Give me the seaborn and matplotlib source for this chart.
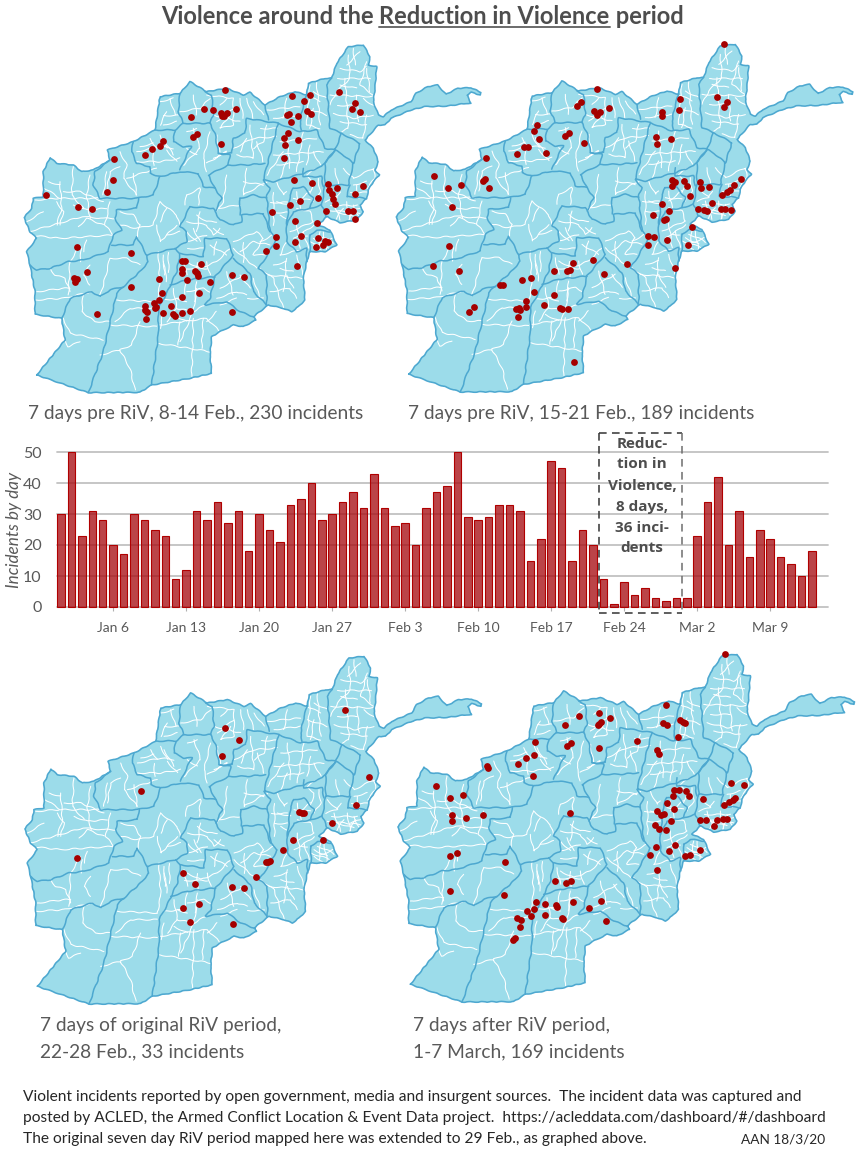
import matplotlib
matplotlib.use("Agg")
import matplotlib.pyplot as plt
from matplotlib.lines import Line2D
import pandas as pd
import seaborn as sns

W, H = 864, 1149
FONT = "Lato"
GREY = "#595959"

# ---------------- bar chart data ----------------
day_index = list(range(73))
incidents = [30, 50, 23, 31, 28, 20, 17, 30, 28, 25,
             23, 9, 12, 31, 28, 34, 27, 31, 18, 30,
             25, 21, 33, 35, 40, 28, 30, 34, 37, 32,
             43, 32, 26, 27, 20, 32, 37, 39, 50, 29,
             28, 29, 33, 33, 31, 15, 22, 47, 45, 15,
             25, 20, 9, 1, 8, 4, 6, 3, 2, 3,
             3, 23, 34, 42, 20, 31, 16, 25, 22, 16,
             14, 10, 18]
tick_days = [5, 12, 19, 26, 33, 40, 47, 54, 61, 68]
tick_labels = ["Jan 6", "Jan 13", "Jan 20", "Jan 27", "Feb 3",
               "Feb 10", "Feb 17", "Feb 24", "Mar 2", "Mar 9"]
riv_label = ["Reduc-", "tion in", "Violence,", "8 days,", "36 inci-", "dents"]

# ---------------- map geometry (map units) ----------------
country = [(50, 1020), (135, 915), (125, 850), (45, 838), (45, 770), (30, 690), (20, 650), (50, 610), (30, 590),
           (12, 548), (35, 520), (40, 490), (70, 485), (70, 410), (90, 368), (110, 385), (160, 390), (185, 410),
           (220, 405), (270, 375), (262, 345), (340, 320), (405, 285), (420, 185), (480, 175), (510, 140),
           (560, 170), (620, 160), (670, 180), (690, 172), (735, 210), (780, 185), (825, 170), (860, 180),
           (865, 145), (915, 130), (935, 130), (950, 85), (985, 35), (1030, 30), (1050, 65), (1045, 90),
           (1070, 95), (1065, 160), (1060, 200), (1075, 240), (1090, 245), (1113, 225), (1173, 200), (1188, 175),
           (1223, 155), (1253, 150), (1278, 178), (1313, 160), (1353, 158), (1383, 172), (1381, 180), (1353, 172),
           (1341, 180), (1353, 205), (1338, 205), (1283, 213), (1213, 215), (1173, 225), (1113, 250), (1095, 270),
           (1075, 270), (1035, 315), (1060, 340), (1075, 380), (1065, 405), (1078, 420), (1060, 440), (1045, 465),
           (1040, 490), (1020, 510), (1030, 530), (1010, 555), (960, 563), (920, 545), (895, 570), (930, 585),
           (950, 630), (915, 650), (870, 650), (860, 680), (850, 730), (855, 795), (835, 815), (815, 830),
           (790, 820), (745, 810), (700, 845), (708, 855), (670, 875), (640, 870), (600, 890), (575, 905),
           (570, 960), (575, 1015), (510, 1030), (395, 1050), (360, 1072), (205, 1073), (50, 1020)]

provinces = [
    [(30, 690), (50, 705), (90, 700), (145, 680), (190, 675), (265, 650), (270, 630), (280, 600), (305, 585), (285, 550), (290, 525), (350, 520), (355, 490)],
    [(270, 375), (225, 410), (220, 450), (240, 490), (350, 490), (400, 480), (420, 425), (480, 410), (535, 415), (550, 455), (585, 460), (605, 490), (585, 530), (600, 555), (640, 570), (665, 560), (665, 540), (730, 535), (750, 590)],
    [(340, 320), (335, 350), (350, 385), (390, 395), (390, 415), (420, 425)],
    [(405, 285), (465, 285)],
    [(480, 175), (475, 230), (490, 265), (465, 285), (460, 320), (490, 335), (515, 335), (500, 360), (480, 405)],
    [(490, 265), (570, 265), (585, 295), (595, 355), (630, 360), (625, 390), (565, 420), (585, 460)],
    [(555, 170), (575, 180), (580, 240), (570, 265)],
    [(595, 355), (635, 355), (640, 310), (675, 295), (680, 250), (775, 265), (760, 320), (730, 435), (760, 440), (850, 415), (905, 395), (945, 345)],
    [(735, 210), (745, 255)],
    [(775, 265), (840, 290), (890, 285), (915, 340), (945, 345), (965, 295), (930, 280), (920, 150), (935, 130)],
    [(860, 180), (850, 210), (840, 260), (845, 285)],
    [(965, 295), (1020, 325), (1000, 385), (970, 360), (945, 345), (915, 385), (915, 450), (985, 450), (1000, 385)],
    [(625, 390), (680, 390), (735, 385)],
    [(730, 435), (750, 460), (740, 480), (750, 590), (770, 610), (730, 680), (715, 700), (740, 720), (740, 810)],
    [(660, 490), (700, 480), (740, 490)],
    [(660, 490), (660, 540)],
    [(510, 515), (580, 520), (585, 530)],
    [(510, 515), (480, 575), (500, 590), (500, 620), (465, 640), (380, 660), (350, 605), (340, 630), (275, 630)],
    [(380, 660), (385, 680), (360, 710), (310, 755), (290, 775), (250, 950), (205, 1073)],
    [(125, 850), (150, 790), (215, 770), (240, 785), (270, 765), (310, 755)],
    [(465, 640), (480, 655), (470, 710), (440, 775), (415, 820), (415, 900), (395, 1050)],
    [(480, 655), (550, 665), (555, 610), (620, 610), (640, 660), (585, 725), (570, 790), (555, 810), (620, 800), (660, 830), (700, 845)],
    [(450, 750), (500, 735), (585, 725)],
    [(640, 670), (690, 715), (700, 770), (740, 810)],
    [(800, 570), (800, 620), (830, 650), (860, 640), (860, 680)],
    [(820, 460), (850, 455), (880, 490), (870, 520), (820, 530), (800, 570), (810, 480), (820, 460)],
    [(990, 450), (980, 485), (1040, 490)],
    [(915, 450), (905, 510), (920, 545)],
    [(850, 400), (850, 425), (905, 425), (910, 455)],
    [(870, 520), (905, 510)],
    [(870, 600), (890, 585), (930, 590)],
    [(870, 600), (870, 650)],
]

districts = [
    [(25, 590), (100, 570), (185, 545), (250, 550), (285, 550)], [(25, 600), (120, 610), (280, 600)],
    [(120, 440), (125, 520), (110, 570)], [(160, 395), (155, 480), (190, 520)], [(60, 450), (120, 490), (250, 490)],
    [(210, 420), (200, 480), (210, 550)], [(270, 500), (255, 570), (280, 600)],
    [(90, 700), (105, 720), (135, 730), (150, 770)], [(50, 770), (130, 760), (150, 760)],
    [(45, 795), (130, 790), (215, 770)], [(150, 680), (145, 780)], [(270, 670), (255, 730), (240, 785)],
    [(270, 670), (320, 670), (360, 690)], [(210, 690), (190, 720), (210, 750)], [(180, 630), (150, 680)],
    [(130, 850), (150, 895), (250, 915)], [(135, 915), (145, 935), (180, 920)], [(190, 780), (185, 830), (225, 860), (270, 860)],
    [(290, 795), (410, 800)], [(285, 860), (330, 820), (410, 820)], [(270, 870), (410, 875)],
    [(240, 960), (300, 945), (330, 1000), (345, 1065)], [(360, 860), (335, 930), (300, 945)], [(415, 650), (420, 750), (410, 800)],
    [(430, 680), (440, 740)], [(415, 925), (570, 950)], [(415, 870), (560, 850), (600, 890)], [(520, 830), (480, 920)],
    [(520, 850), (515, 1025)], [(550, 850), (545, 940)], [(460, 760), (470, 820), (520, 830), (555, 810)],
    [(500, 740), (490, 790), (430, 795)], [(530, 740), (525, 800)], [(590, 790), (650, 770), (680, 780)],
    [(620, 710), (640, 780)], [(600, 760), (670, 720)], [(500, 680), (540, 700), (590, 680), (630, 640)],
    [(720, 700), (760, 730), (780, 790), (790, 820)], [(745, 720), (850, 730)], [(750, 770), (810, 760), (830, 790)],
    [(800, 670), (790, 770)], [(640, 620), (710, 590), (730, 610), (700, 660), (735, 660)], [(660, 650), (700, 620), (750, 630)],
    [(420, 500), (400, 570), (350, 580), (300, 570)], [(410, 570), (420, 620), (470, 570)], [(420, 500), (470, 540), (480, 575)],
    [(360, 570), (350, 610)], [(500, 480), (540, 460), (535, 510)], [(500, 480), (495, 510)],
    [(500, 560), (560, 570), (580, 600), (600, 580)], [(520, 580), (540, 620)], [(500, 620), (560, 600)],
    [(620, 420), (610, 500), (590, 530)], [(590, 520), (660, 510)], [(680, 400), (670, 480), (740, 440)], [(670, 440), (730, 450)],
    [(350, 350), (420, 335), (460, 340)], [(400, 350), (400, 390)], [(350, 380), (420, 380), (480, 370)], [(390, 310), (410, 340)],
    [(300, 350), (320, 390), (310, 430), (350, 480)], [(260, 410), (250, 480)], [(320, 430), (410, 400)],
    [(430, 240), (475, 240)], [(450, 190), (465, 240)], [(420, 200), (460, 190)],
    [(520, 280), (540, 340), (490, 390)], [(570, 290), (550, 370), (560, 410)], [(600, 360), (590, 300)],
    [(480, 230), (540, 220), (570, 190)], [(520, 180), (530, 240)], [(560, 180), (640, 190)], [(640, 190), (640, 270), (600, 280), (630, 240)],
    [(580, 240), (660, 260)], [(660, 190), (670, 250)], [(640, 340), (700, 310), (770, 305)], [(690, 270), (700, 370), (650, 360)],
    [(720, 280), (770, 280)], [(740, 225), (840, 215)], [(800, 190), (790, 250)], [(760, 250), (840, 240)],
    [(780, 320), (890, 310)], [(800, 290), (810, 400)], [(850, 290), (830, 410)], [(760, 360), (910, 350)], [(790, 350), (740, 420)],
    [(870, 150), (860, 270), (900, 280)], [(890, 140), (900, 270)], [(860, 220), (920, 240)],
    [(985, 60), (990, 130), (950, 170), (930, 210)], [(1040, 80), (1020, 150), (1060, 180)], [(960, 100), (1020, 110), (1040, 95)],
    [(930, 180), (1060, 185)], [(940, 235), (1000, 250), (1060, 240)], [(975, 130), (985, 280), (965, 290)], [(1010, 180), (1015, 260)],
    [(945, 400), (955, 450)], [(970, 400), (1000, 430)], [(1000, 430), (1060, 400), (1065, 430), (1040, 460)], [(1000, 450), (1040, 440)],
    [(920, 525), (1020, 535)], [(940, 500), (960, 555)], [(980, 500), (990, 560)], [(930, 510), (1010, 510)], [(1000, 510), (1015, 545)],
    [(830, 470), (840, 520)], [(820, 490), (870, 495)], [(830, 500), (870, 470)], [(760, 470), (760, 570)], [(770, 500), (810, 510)],
    [(780, 540), (800, 550)], [(810, 590), (880, 560)], [(830, 560), (840, 640)], [(850, 590), (865, 640)],
    [(890, 600), (920, 610), (940, 625)], [(900, 590), (895, 640)], [(870, 620), (930, 640)],
    [(780, 660), (860, 640)], [(800, 620), (780, 660)],
    # finer divisions
    [(130, 470), (180, 470), (250, 500)], [(160, 510), (200, 525), (260, 520)], [(110, 500), (130, 530), (120, 570)],
    [(85, 440), (120, 450)], [(45, 495), (115, 490)], [(175, 575), (200, 550), (250, 570)], [(20, 560), (70, 530)],
    [(185, 640), (180, 680)], [(200, 615), (190, 650)], [(300, 395), (270, 410), (260, 470)], [(340, 415), (350, 480)],
    [(430, 310), (460, 360)], [(360, 335), (400, 325)], [(440, 345), (470, 380)], [(420, 300), (440, 340)],
    [(300, 530), (340, 540), (360, 570)], [(440, 520), (420, 560)], [(440, 600), (480, 590)],
    [(430, 830), (420, 880)], [(460, 840), (500, 860)], [(480, 860), (475, 930)], [(560, 860), (590, 830)],
    [(430, 660), (435, 720)], [(445, 650), (445, 710)], [(470, 820), (440, 860)],
    [(500, 770), (550, 760), (570, 770)], [(530, 760), (520, 830)], [(470, 790), (500, 800)],
    [(490, 670), (500, 720)], [(530, 680), (530, 730)], [(560, 680), (570, 720)], [(490, 700), (560, 700)], [(500, 640), (550, 640)],
    [(530, 540), (560, 560), (590, 560)], [(540, 530), (530, 590)], [(500, 590), (530, 620)], [(580, 580), (610, 600)],
    [(570, 630), (620, 660)], [(590, 620), (580, 660)], [(640, 640), (710, 700)], [(670, 620), (670, 680)], [(720, 620), (760, 600)],
    [(600, 810), (650, 790)], [(680, 790), (730, 790)], [(700, 730), (720, 790)], [(660, 720), (690, 760)],
    [(800, 720), (820, 760)], [(780, 700), (820, 710)], [(830, 660), (850, 720)], [(760, 690), (800, 680)],
    [(750, 500), (800, 500)], [(760, 530), (800, 530)], [(770, 440), (790, 480), (800, 470)], [(830, 520), (870, 530), (880, 560)],
    [(860, 420), (880, 440), (870, 480)], [(895, 430), (900, 470), (880, 500)], [(920, 460), (950, 490), (960, 470)], [(950, 490), (915, 500)],
    [(990, 470), (1040, 470)], [(1010, 450), (1015, 490)], [(950, 530), (1000, 545)], [(970, 520), (945, 555)],
    [(1005, 520), (985, 555)], [(1020, 520), (990, 530)], [(820, 610), (870, 580), (880, 570)], [(840, 600), (860, 600)],
    [(880, 610), (920, 630)], [(910, 590), (920, 650)], [(880, 630), (905, 645)], [(900, 625), (940, 610)],
    [(1000, 40), (1005, 90)], [(1020, 50), (980, 90)], [(950, 130), (1050, 130)], [(1040, 100), (1050, 170)], [(960, 150), (1010, 160)],
    [(1030, 190), (1070, 220)], [(950, 210), (1010, 210)], [(1040, 240), (1030, 310), (990, 300)], [(960, 260), (1040, 270)],
    [(880, 170), (920, 190)], [(880, 220), (870, 280)], [(900, 200), (860, 180)], [(870, 330), (860, 390)], [(770, 390), (850, 380)],
    [(800, 380), (780, 430)], [(880, 350), (900, 390)], [(890, 400), (860, 420)], [(680, 310), (660, 350)], [(740, 270), (730, 320), (700, 340)],
    [(710, 320), (730, 380)], [(600, 210), (620, 190)], [(590, 260), (640, 220)], [(680, 190), (700, 250)], [(700, 200), (730, 240)],
    [(500, 290), (530, 280)], [(500, 340), (530, 360)], [(580, 370), (620, 350), (560, 385)], [(430, 270), (470, 260)], [(440, 230), (420, 270)],
]

# ---------------- incident locations per panel ----------------
pts_8_14_feb = [(614,165),(816,183),(870,179),(851,197),(957,171),(1004,205),(996,222),(1021,231),(552,222),(580,226),(649,223),(513,245),(604,233),(607,243),(612,243),(620,235),(861,229),(873,237),(808,238),(802,241),(833,243),(812,262),(804,293),(792,309),(795,330),(835,316),(793,368),(530,298),(520,307),(604,328),(428,318),(421,333),(396,342),(374,360),(282,372),(278,436),(261,470),(79,481),(175,516),(215,522),(823,436),(876,443),(924,447),(952,460),(928,466),(936,478),(940,492),(946,508),(895,488),(840,497),(809,511),(756,531),(918,528),(985,528),(1000,527),(1006,477),(1028,454),(1006,551),(824,557),(890,563),(767,607),(769,634),(737,648),(843,602),(825,620),(893,610),(888,635),(910,631),(915,618),(923,621),(830,693),(170,636),(333,654),(200,712),(162,730),(170,732),(165,742),(487,679),(494,679),(487,701),(486,713),(544,688),(525,709),(530,715),(535,722),(502,735),(569,740),(635,720),(671,725),(417,733),(332,755),(426,775),(417,795),(401,803),(404,820),(407,815),(375,812),(375,826),(380,830),(377,851),(430,833),(454,813),(458,838),(464,842),(486,785),(536,773),(485,834),(509,827),(637,832),(231,836)]
pts_15_21_feb = [(998,27),(619,161),(866,193),(865,225),(977,187),(1007,201),(1000,217),(569,201),(558,212),(653,218),(608,229),(617,239),(627,230),(812,232),(813,242),(437,269),(428,289),(443,312),(534,294),(523,304),(796,306),(839,312),(799,326),(580,325),(400,337),(412,337),(378,356),(466,353),(286,368),(130,424),(172,460),(211,451),(282,432),(276,438),(295,458),(182,517),(842,434),(851,440),(842,453),(880,438),(887,453),(928,442),(931,460),(955,456),(898,484),(1050,433),(1030,451),(1018,465),(1009,472),(994,481),(964,503),(813,507),(835,528),(786,540),(826,552),(819,556),(922,523),(938,524),(948,529),(990,523),(1003,523),(1020,525),(904,575),(770,603),(790,607),(772,629),(829,616),(892,631),(852,699),(173,632),(126,693),(204,707),(709,686),(545,684),(606,674),(488,709),(528,708),(537,706),(639,717),(421,729),(394,734),(327,751),(337,751),(430,771),(490,781),(404,799),(406,815),(458,809),(375,822),(385,820),(386,826),(506,818),(513,823),(530,822),(380,847),(249,817),(235,832),(549,981)]
pts_22_28_feb = [(615,248),(656,285),(605,333),(975,196),(1046,397),(1007,481),(362,438),(838,501),(845,503),(851,505),(936,533),(818,584),(910,585),(788,616),(738,652),(744,650),(751,648),(171,640),(489,683),(526,717),(707,695),(637,725),(672,729),(488,789),(538,778),(511,831),(638,836)]
pts_1_7_mar = [(1003,28),(825,179),(563,212),(624,203),(657,219),(521,241),(630,230),(625,236),(620,241),(868,225),(875,230),(881,233),(817,233),(829,241),(862,275),(432,290),(539,294),(528,304),(625,310),(737,288),(799,316),(804,326),(429,329),(405,338),(382,356),(288,362),(291,370),(427,392),(1021,415),(1058,421),(135,424),(178,460),(217,451),(848,434),(864,434),(886,439),(893,453),(847,454),(829,473),(849,492),(937,462),(1032,460),(1025,465),(1014,472),(998,481),(538,505),(183,511),(184,527),(224,518),(277,510),(798,498),(820,506),(811,511),(840,528),(926,524),(944,524),(977,525),(970,542),(995,523),(1009,523),(791,540),(803,552),(825,556),(853,599),(796,607),(777,629),(834,617),(926,614),(882,632),(896,631),(178,632),(197,625),(342,650),(797,674),(493,709),(524,713),(540,707),(176,737),(340,751),(434,771),(463,776),(494,780),(498,785),(545,770),(631,767),(429,792),(409,799),(419,813),(462,809),(595,790),(512,818),(517,822),(645,828),(379,820),(390,826),(386,847),(373,879),(365,884)]

sns.set_theme(style="white")
plt.rcParams["font.family"] = [FONT, "DejaVu Sans"]

fig = plt.figure(figsize=(W / 100, H / 100), dpi=100, facecolor="white")


def px_axes(x, y, w, h):
    ax = fig.add_axes([x / W, 1 - (y + h) / H, w / W, h / H])
    ax.patch.set_alpha(0)
    return ax


def label(x, y, s, **kw):
    kw.setdefault("va", "center")
    return fig.text(x / W, 1 - y / H, s, **kw)


def draw_map(origin, shift, points):
    ax = px_axes(origin[0], origin[1], 470, 365)
    sx, sy = shift
    ax.fill([p[0] + sx for p in country], [p[1] + sy for p in country], color="#9cdcea", lw=0, zorder=1)
    for line in districts:
        l, = ax.plot([p[0] + sx for p in line], [p[1] + sy for p in line], color="white", lw=0.75, zorder=2,
                     solid_joinstyle="round")
        l.set_sketch_params(scale=0.6, length=18, randomness=2)
    for line in provinces:
        l, = ax.plot([p[0] + sx for p in line], [p[1] + sy for p in line], color="#4da8d0", lw=1.1, zorder=3,
                     solid_joinstyle="round")
        l.set_sketch_params(scale=0.5, length=16, randomness=2)
    l, = ax.plot([p[0] + sx for p in country], [p[1] + sy for p in country], color="#4da8d0", lw=1.15, zorder=3,
                 solid_joinstyle="round")
    l.set_sketch_params(scale=0.35, length=12, randomness=2)
    df = pd.DataFrame(points, columns=["x", "y"])
    sns.scatterplot(data=df, x="x", y="y", ax=ax, color="#a50000", s=24, linewidth=0, zorder=4, legend=False)
    ax.set_xlim(0, 1410)
    ax.set_ylim(1095, 0)
    ax.axis("off")


draw_map((20, 35), (0, 0), pts_8_14_feb)
draw_map((391, 35), (3, -2), pts_15_21_feb)
draw_map((20, 645), (2, 4), pts_22_28_feb)
draw_map((391, 645), (8, -2), pts_1_7_mar)

# ---------------- bars ----------------
step = 10.43
ax = px_axes(57, 452, 771, 155)
sns.barplot(x=day_index, y=incidents, ax=ax, color="#b01018", saturation=1, width=0.72, zorder=3)
for b in ax.patches:
    b.set_facecolor((0.66, 0.06, 0.08, 0.78))
    b.set_edgecolor("#b00000")
    b.set_linewidth(0.8)
    b.set_clip_on(False)
ax.set_xlim(-4 / step, 767 / step)
ax.set_ylim(0, 50)
ax.set_yticks([0, 10, 20, 30, 40, 50])
ax.set_xticks(tick_days)
ax.set_xticklabels(tick_labels)
ax.tick_params(axis="x", length=3, width=0.8, color="#b0b0b0", labelsize=10, labelcolor=GREY, pad=7.5, bottom=True)
ax.tick_params(axis="y", length=0, labelsize=11.5, labelcolor=GREY, pad=11)
ax.yaxis.grid(True, color="#c2c2c2", lw=1.3, zorder=0)
ax.xaxis.grid(False)
ax.set_axisbelow(True)
for g in ax.get_ygridlines():
    g.set_clip_on(False)
for s in ax.spines.values():
    s.set_visible(False)
ax.hlines(0, -4 / step, 757 / step, color="#c8c8c8", lw=1.2, zorder=2, clip_on=False)
ax.set_xlabel("")
ax.set_ylabel("Incidents by day", style="italic", fontsize=12.3, color=GREY, labelpad=0.5)

# dashed RiV box
x0, x1, y0, y1 = 598.5 / W, 682 / W, 1 - 432.5 / H, 1 - 612.5 / H
for xs, ys, c in [((x0, x1), (y0, y0), "#333333"), ((x0, x0), (y0, y1), "#333333"),
                  ((x0, x1), (y1, y1), "#333333"), ((x1, x1), (y0, y1), "#6e6e6e")]:
    fig.add_artist(Line2D(xs, ys, color=c, lw=1.1, ls=(0, (5, 3.5)), transform=fig.transFigure, zorder=10))
for i, s in enumerate(riv_label):
    label(642, 443.5 + i * 21, s, ha="center", fontsize=11, fontweight="bold", color="#4d4d4d",
          family=["Open Sans", "DejaVu Sans"])

# ---------------- title ----------------
fig.canvas.draw()
rend = fig.canvas.get_renderer()
parts = ["Violence around the ", "Reduction in Violence", " period"]
x = 161
spans = []
for part in parts:
    t = label(x, 16.5, part.replace(" ", "\u00a0"), ha="left", fontsize=17, fontweight="bold", color="#4d4d4d")
    bb = t.get_window_extent(rend)
    spans.append((x, x + bb.width))
    x += bb.width
fig.add_artist(Line2D([spans[1][0] / W, spans[1][1] / W], [1 - 27 / H, 1 - 27 / H], color="#6a6a6a", lw=1.4,
                      transform=fig.transFigure))

# ---------------- captions ----------------
cap = dict(ha="left", fontsize=13.8, color=GREY)
label(28, 414, "7 days pre RiV, 8-14 Feb., 230 incidents", **cap)
label(408, 414, "7 days pre RiV, 15-21 Feb., 189 incidents", **cap)
label(40, 1026, "7 days of original RiV period,", **cap)
label(40, 1052, "22-28 Feb., 33 incidents", **cap)
label(413, 1026, "7 days after RiV period,", **cap)
label(413, 1052, "1-7 March, 169 incidents", **cap)

foot = dict(ha="left", fontsize=11.2, color="#262626")
label(23, 1097, "Violent incidents reported by open government, media and insurgent sources.  The incident data was captured and", **foot)
label(23, 1118, "posted by ACLED, the Armed Conflict Location & Event Data project.  https://acleddata.com/dashboard/#/dashboard", **foot)
label(23, 1139, "The original seven day RiV period mapped here was extended to 29 Feb., as graphed above.", **foot)
label(825, 1139, "AAN 18/3/20", ha="right", fontsize=9.8, color="#262626")

fig.savefig("out.png", dpi=100, facecolor="white")
